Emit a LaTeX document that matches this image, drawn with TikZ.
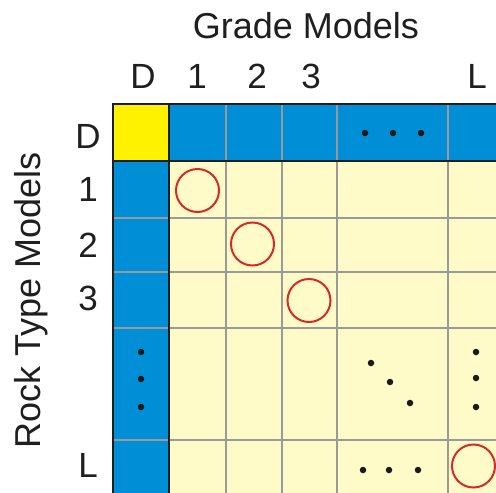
\documentclass[tikz,border=0pt]{standalone}
\usepackage{fontspec}
\setmainfont{Liberation Sans}
\definecolor{hdrblue}{HTML}{008FD6}
\definecolor{cellcream}{HTML}{FFFBC9}
\definecolor{cornyellow}{HTML}{FFF200}
\definecolor{ringred}{HTML}{D42A2A}
\definecolor{gridgray}{HTML}{9A9A9A}
\definecolor{framedark}{HTML}{1E1E1E}
\begin{document}
\begin{tikzpicture}[x=1pt,y=-1pt,
  lbl/.style={font=\fontsize{35}{35}\selectfont, text=black!88, inner sep=0pt},
  ttl/.style={font=\fontsize{36}{36}\selectfont, text=black!88, inner sep=0pt},
  ring/.style={circle, draw=ringred, line width=2pt, minimum size=43pt, inner sep=0pt},
  dotmark/.style={circle, fill=black!90, minimum size=6.5pt, inner sep=0pt},
  thin/.style={gridgray, line width=1.3pt},
  thick/.style={framedark, line width=2.6pt}]
\useasboundingbox (0,0) rectangle (496,493);
\fill[white] (0,0) rectangle (496,493);

% cell fills: interior, header row, header column, corner
\fill[cellcream] (169,161) rectangle (496,493);
\fill[hdrblue] (169,104) rectangle (496,161);
\fill[hdrblue] (113,161) rectangle (169,493);
\fill[cornyellow] (113,104) rectangle (169,161);

% thin grid lines
\foreach \x in {226,282,337,448} \draw[thin] (\x,104) -- (\x,493);
\foreach \y in {218,272,328,440} \draw[thin] (113,\y) -- (496,\y);

% outer frame and header separators
\draw[thick] (496,104) -- (113,104) -- (113,493);
\draw[thick] (169,104) -- (169,493);
\draw[thick] (113,161) -- (496,161);

% axis titles
\node[ttl, anchor=base] (gtitle) at (306,38) {Grade Models};
\node[ttl, anchor=base, rotate=90] (rtitle) at (41,300.5) {Rock Type Models};

% column labels
\node[lbl, anchor=base] (cD) at (143,88) {D};
\node[lbl, anchor=base] (c1) at (197,88) {1};
\node[lbl, anchor=base] (c2) at (257,88) {2};
\node[lbl, anchor=base] (c3) at (311,88) {3};
\node[lbl, anchor=base] (cL) at (477,88) {L};

% row labels
\node[lbl] (rD) at (88,136) {D};
\node[lbl] (r1) at (88,189) {1};
\node[lbl] (r2) at (88,245) {2};
\node[lbl] (r3) at (88,298) {3};
\node[lbl] (rL) at (88,465) {L};

% diagonal rings
\node[ring] (k1) at (197.5,190.5) {};
\node[ring] (k2) at (252.5,244) {};
\node[ring] (k3) at (309,300.5) {};
\node[ring] (kL) at (473.5,466) {};

% ellipsis dots
\foreach \p [count=\i] in {(365,133),(393,133),(421,133)} \node[dotmark] (h\i) at \p {};
\foreach \p [count=\i] in {(141,352),(141,379),(141,407)} \node[dotmark] (v\i) at \p {};
\foreach \p [count=\i] in {(371,363),(390,382),(410,403)} \node[dotmark] (d\i) at \p {};
\foreach \p [count=\i] in {(476,352),(476,378),(476,407)} \node[dotmark] (e\i) at \p {};
\foreach \p [count=\i] in {(363,470),(389,470),(418,470)} \node[dotmark] (b\i) at \p {};
\end{tikzpicture}
\end{document}
